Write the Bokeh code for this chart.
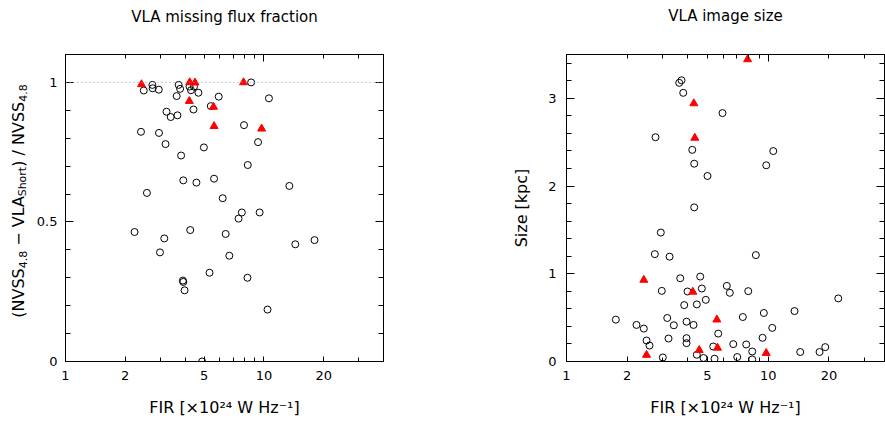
from math import pi
from bokeh.plotting import figure
from bokeh.layouts import row
from bokeh.models import (Range1d, FixedTicker, LinearAxis, LogAxis, CustomJSTickFormatter,
                          Span, Label)
from bokeh.embed import file_html
from bokeh.resources import INLINE

# ---------------- data ----------------
# Left panel: VLA missing flux fraction
flux_circle_fir = [2.739, 2.749, 2.479, 2.951, 3.715, 3.779, 3.631, 4.215, 4.288, 4.439,
                   4.674, 5.915, 8.612, 10.59, 3.228, 3.388, 3.664, 4.413, 5.395, 7.932,
                   2.400, 2.958, 3.191, 4.979, 9.333, 3.823, 8.285, 3.921, 4.567, 5.604,
                   13.42, 2.572, 6.194, 7.733, 7.445, 9.507, 2.228, 4.249, 3.145, 6.411,
                   2.992, 6.689, 14.38, 17.97, 5.316, 3.903, 3.921, 3.980, 8.256, 10.42,
                   4.877]
flux_circle_frac = [0.991, 0.979, 0.971, 0.974, 0.991, 0.977, 0.951, 0.985, 0.972, 0.985,
                    0.963, 0.949, 1.000, 0.943, 0.895, 0.876, 0.882, 0.903, 0.915, 0.847,
                    0.823, 0.819, 0.779, 0.767, 0.786, 0.738, 0.704, 0.649, 0.641, 0.655,
                    0.629, 0.604, 0.585, 0.534, 0.512, 0.534, 0.464, 0.471, 0.441, 0.457,
                    0.391, 0.379, 0.420, 0.435, 0.318, 0.290, 0.285, 0.255, 0.300, 0.186,
                    0.000]
flux_tri_fir = [2.414, 4.225, 4.490, 4.206, 5.566, 5.604, 7.886, 9.728]
flux_tri_frac = [0.993, 1.000, 0.999, 0.933, 0.912, 0.843, 1.000, 0.834]
flux_reference_level = 1.0

# Right panel: VLA image size
size_circle_fir = [3.716, 3.620, 3.790, 5.935, 2.762, 4.201, 4.296, 5.000, 10.59, 9.773,
                   4.296, 2.934, 2.741, 3.242, 8.682, 3.663, 4.601, 2.968, 3.980, 4.686,
                   6.233, 6.450, 7.961, 22.24, 4.904, 3.833, 4.426, 13.50, 9.511, 7.484,
                   1.756, 3.158, 3.936, 2.223, 2.417, 3.404, 4.262, 10.47, 5.650, 2.493,
                   2.579, 3.204, 3.936, 3.936, 9.370, 5.338, 6.708, 7.780, 8.330, 4.426,
                   4.778, 5.418, 7.021, 8.330, 3.002, 14.41, 17.96, 19.17]
size_circle_kpc = [3.206, 3.177, 3.063, 2.832, 2.557, 2.413, 2.255, 2.115, 2.399, 2.237,
                   1.757, 1.470, 1.224, 1.195, 1.213, 0.949, 0.968, 0.805, 0.798, 0.832,
                   0.862, 0.783, 0.802, 0.719, 0.703, 0.643, 0.651, 0.575, 0.553, 0.507,
                   0.477, 0.496, 0.454, 0.417, 0.375, 0.413, 0.417, 0.383, 0.318, 0.239,
                   0.182, 0.262, 0.266, 0.209, 0.270, 0.171, 0.198, 0.194, 0.114, 0.077,
                   0.040, 0.032, 0.051, 0.024, 0.046, 0.108, 0.108, 0.164]
size_tri_fir = [7.900, 4.277, 4.326, 2.417, 4.229, 5.563, 4.549, 5.605, 9.773, 2.493]
size_tri_kpc = [3.444, 2.942, 2.549, 0.930, 0.794, 0.477, 0.130, 0.156, 0.096, 0.074]

x_label_ticks = [1, 2, 5, 10, 20]
x_minor_ticks = [3, 4, 6, 7, 8, 9, 30, 40]
x_top_major = [1, 10]
x_top_minor = [2, 3, 4, 5, 6, 7, 8, 9, 20, 30, 40]
flux_yticks = [0, 0.5, 1]
flux_yminor = [0.1, 0.2, 0.3, 0.4, 0.6, 0.7, 0.8, 0.9, 1.1]
size_yticks = [0, 1, 2, 3]
size_yminor = [0.2, 0.4, 0.6, 0.8, 1.2, 1.4, 1.6, 1.8, 2.2, 2.4, 2.6, 2.8, 3.2, 3.4]

title_left = "VLA missing flux fraction"
title_right = "VLA image size"
x_title = "FIR [×10²⁴ W Hz⁻¹]"
y_title_right = "Size [kpc]"
# left y title: (NVSS_4.8 − VLA_Short) / NVSS_4.8, as (text, kind) pieces
y_title_left = [("(NVSS", "main"), ("4.8", "sub"), ("− VLA", "main"), ("Short", "sub"),
                (") / NVSS", "main"), ("4.8", "sub")]

FONT = "DejaVu Sans"
# DejaVu Sans advance widths (em) for composing the subscripted label
W = {" ": .318, "(": .390, ")": .390, ".": .318, "/": .337, "[": .390, "]": .390,
     "A": .684, "F": .575, "H": .752, "I": .295, "L": .557, "N": .748, "R": .695,
     "S": .635, "V": .684, "W": .989, "h": .634, "o": .612, "r": .411, "t": .392,
     "z": .525, "×": .838, "−": .838}
for d in "0123456789":
    W[d] = .636


def tw(s, size):
    return sum(W.get(c, .6) for c in s) * size


def style_axis(ax, major_in, minor_in, labels=True, standoff=10):
    ax.major_tick_in = major_in
    ax.major_tick_out = 0
    ax.minor_tick_in = minor_in
    ax.minor_tick_out = 0
    ax.axis_line_color = "black"
    ax.major_tick_line_color = "black"
    ax.minor_tick_line_color = "black"
    ax.major_label_text_font = FONT
    ax.major_label_text_color = "black"
    ax.major_label_standoff = standoff
    ax.axis_label_text_font = FONT
    ax.axis_label_text_font_size = "16px"
    ax.axis_label_text_font_style = "normal"
    ax.axis_label_text_color = "black"
    if labels:
        ax.major_label_text_font_size = "13px"
        ax.formatter = CustomJSTickFormatter(code="return String(tick)")
    else:
        ax.major_label_text_font_size = "0px"
        ax.major_label_standoff = 0
        ax.formatter = CustomJSTickFormatter(code="return ''")


def make_fig(w, h, xmax, ymax, bl, br, bt, bb, yt, ym, title, ystand, tstand):
    p = figure(x_axis_type="log", x_range=Range1d(1, xmax), y_range=Range1d(0, ymax),
               width=w, height=h, title=None,
               min_border_left=bl, min_border_right=br, min_border_top=bt, min_border_bottom=bb,
               output_backend="svg", toolbar_location=None)
    p.background_fill_color = "white"
    p.border_fill_color = "white"
    p.outline_line_color = "black"
    p.outline_line_width = 1
    p.xgrid.visible = False
    p.ygrid.visible = False

    xb = p.xaxis[0]
    xb.ticker = FixedTicker(ticks=x_label_ticks, minor_ticks=x_minor_ticks)
    style_axis(xb, 5, 4, True, 9)
    xb.axis_label = x_title
    xb.axis_label_standoff = 15
    yl = p.yaxis[0]
    yl.ticker = FixedTicker(ticks=yt, minor_ticks=ym)
    style_axis(yl, 8, 5, True, ystand)

    # mirrored top axis; its axis label carries the panel title
    xa = LogAxis(ticker=FixedTicker(ticks=x_top_major, minor_ticks=x_top_minor))
    style_axis(xa, 7, 4, False)
    xa.axis_label = title
    xa.axis_label_text_font_size = "15px"
    xa.axis_label_standoff = tstand
    p.add_layout(xa, "above")
    yr = LinearAxis(ticker=FixedTicker(ticks=yt, minor_ticks=ym))
    style_axis(yr, 8, 5, False)
    p.add_layout(yr, "right")
    return p


# ---------------- left panel ----------------
p1 = make_fig(365, 421, 40, 1.1, 29, 15, 54, 60, flux_yticks, flux_yminor, title_left, 8, 29)
p1.add_layout(Span(location=flux_reference_level, dimension="width", line_color="#9a9a9a",
                   line_dash="1 3", line_width=1))
p1.scatter(flux_circle_fir, flux_circle_frac, marker="circle", size=7,
           fill_color=None, line_color="black", line_width=1)
p1.scatter(flux_tri_fir, flux_tri_frac, marker="triangle", size=8,
           fill_color="red", line_color="red", line_width=1)

# text strip for the left y title (with subscripts); its frame is aligned with p1's frame
y1 = figure(width=33, height=421, x_range=Range1d(0, 1), y_range=Range1d(0, 1),
            x_axis_type=None, y_axis_type=None, min_border=0, title=None,
            output_backend="svg", toolbar_location=None)
y1.outline_line_color = None
y1.xgrid.visible = False
y1.ygrid.visible = False
sizes = {"main": 16, "sub": 11}
shifts = {"main": 0, "sub": 4}
gap = .318 * 16
total = sum(tw(t, sizes[k]) for t, k in y_title_left) + gap
pos = 160.5 - total / 2
for t, k in y_title_left:
    if t.startswith("−"):
        pos += gap
    y1.add_layout(Label(x=18 + shifts[k], y=pos, x_units="screen", y_units="screen", text=t,
                        angle=pi / 2, text_font=FONT, text_font_size=f"{sizes[k]}px",
                        text_align="left", text_baseline="alphabetic", text_color="black"))
    pos += tw(t, sizes[k])

# ---------------- right panel ----------------
p2 = make_fig(487, 421, 37.7, 3.5, 168, 1, 52, 60, size_yticks, size_yminor, title_right, 10, 30)
p2.yaxis[0].axis_label = y_title_right
p2.yaxis[0].axis_label_standoff = 14
p2.scatter(size_circle_fir, size_circle_kpc, marker="circle", size=7,
           fill_color=None, line_color="black", line_width=1)
p2.scatter(size_tri_fir, size_tri_kpc, marker="triangle", size=8,
           fill_color="red", line_color="red", line_width=1)

layout = row(y1, p1, p2)
open("out.html", "w").write(file_html(layout, INLINE))
